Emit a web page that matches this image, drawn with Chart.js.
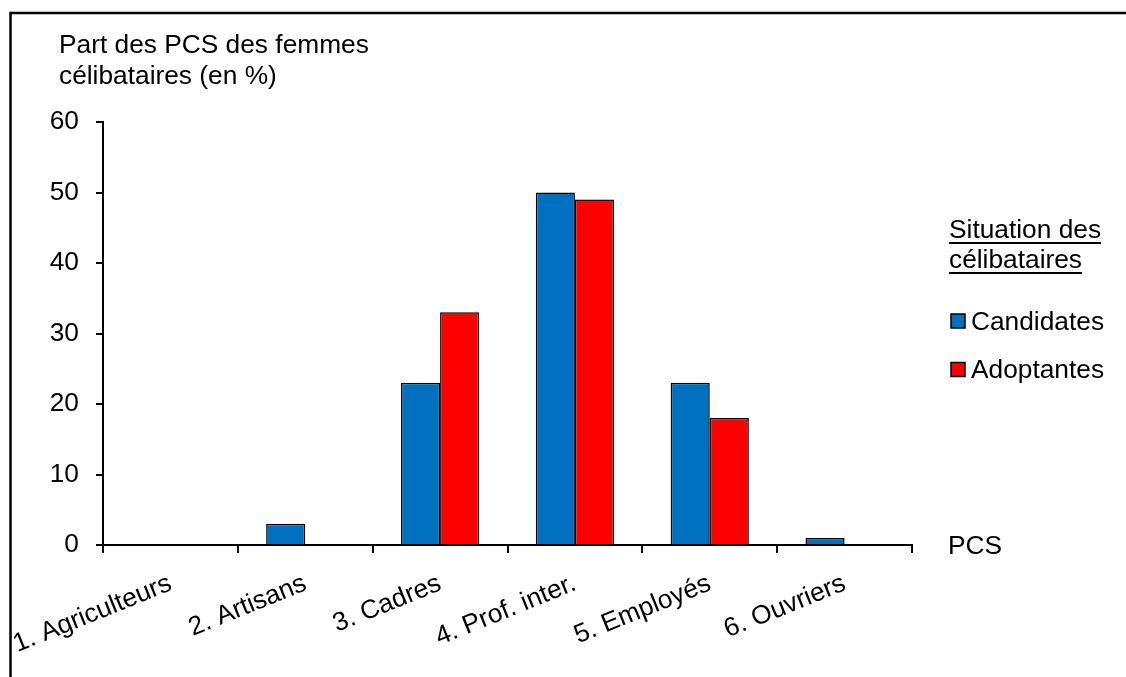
<!DOCTYPE html>
<html>
<head>
<meta charset="utf-8">
<script src="https://cdn.jsdelivr.net/npm/chart.js@4.4.0/dist/chart.umd.min.js"></script>
<style>
html,body{margin:0;padding:0;background:#fff;}
#wrap{width:1126px;height:677px;position:relative;}
</style>
</head>
<body>
<div id="wrap"><canvas id="c" width="1126" height="677"></canvas></div>
<script>
const categories = ["1. Agriculteurs","2. Artisans","3. Cadres","4. Prof. inter.","5. Employés","6. Ouvriers"];
const candidates = [0, 3, 23, 50, 23, 1];
const adoptantes = [0, 0, 33, 49, 18, 0];
const yTicks = [0, 10, 20, 30, 40, 50, 60];
const seriesNames = ["Candidates", "Adoptantes"];
const seriesColors = ["#0070C0", "#FF0000"];
const yTitleLines = ["Part des PCS des femmes", "célibataires (en %)"];
const xTitle = "PCS";
const legendTitle = ["Situation des", "célibataires"];

const FONT = "'Liberation Sans', Arial, sans-serif";
const FS = 26.3;

const decor = {
  id: 'decor',
  beforeDraw(chart) {
    const ctx = chart.ctx;
    ctx.save();
    ctx.fillStyle = '#fff';
    ctx.fillRect(0, 0, chart.width, chart.height);
    ctx.restore();
  },
  afterDraw(chart) {
    const ctx = chart.ctx;
    const area = chart.chartArea;
    ctx.save();
    // frame (top and left)
    ctx.strokeStyle = '#000';
    ctx.lineWidth = 2.5;
    ctx.beginPath();
    ctx.moveTo(10.5, chart.height);
    ctx.lineTo(10.5, 13);
    ctx.lineTo(chart.width, 13);
    ctx.stroke();

    ctx.fillStyle = '#000';
    ctx.font = FS + 'px ' + FONT;
    ctx.textBaseline = 'alphabetic';
    ctx.textAlign = 'left';
    // y title
    ctx.fillText(yTitleLines[0], 59, 53);
    ctx.fillText(yTitleLines[1], 59, 84);
    // x title
    ctx.fillText(xTitle, area.right + 36, area.bottom + 9);

    // legend
    const lx = 949;
    ctx.fillText(legendTitle[0], lx, 238);
    ctx.fillText(legendTitle[1], lx, 268);
    ctx.lineWidth = 2;
    ctx.beginPath();
    let w0 = ctx.measureText(legendTitle[0]).width;
    let w1 = ctx.measureText(legendTitle[1]).width;
    ctx.moveTo(lx, 243); ctx.lineTo(lx + w0, 243);
    ctx.moveTo(lx, 273); ctx.lineTo(lx + w1, 273);
    ctx.stroke();

    const rows = [321, 369.5];
    chart.data.datasets.forEach((ds, i) => {
      const cy = rows[i];
      ctx.fillStyle = ds.backgroundColor;
      ctx.fillRect(951, cy - 7, 14, 14);
      ctx.lineWidth = 1.5;
      ctx.strokeStyle = '#000';
      ctx.strokeRect(951, cy - 7, 14, 14);
      ctx.fillStyle = '#000';
      ctx.fillText(ds.label, 971, cy + 8.5);
    });
    ctx.restore();
  }
};

new Chart(document.getElementById('c'), {
  type: 'bar',
  data: {
    labels: categories,
    datasets: [
      { label: seriesNames[0], data: candidates, backgroundColor: seriesColors[0], borderColor: '#000', borderWidth: 1.5, borderSkipped: 'bottom' },
      { label: seriesNames[1], data: adoptantes, backgroundColor: seriesColors[1], borderColor: '#000', borderWidth: 1.5, borderSkipped: 'bottom' }
    ]
  },
  options: {
    responsive: false,
    animation: false,
    devicePixelRatio: 1,
    layout: { padding: { top: 122, right: 214, left: 0, bottom: 0 } },
    plugins: { legend: { display: false }, tooltip: { enabled: false } },
    datasets: { bar: { categoryPercentage: 0.58, barPercentage: 1.0 } },
    scales: {
      x: {
        offset: true,
        grid: { display: true, offset: true, drawOnChartArea: false, drawTicks: true, tickLength: 8, color: '#000', lineWidth: 2 },
        border: { display: true, color: '#000', width: 2 },
        ticks: { color: '#000', font: { family: FONT, size: FS }, minRotation: 22, maxRotation: 22, padding: 15, autoSkip: false },
        afterFit(scale) { scale.height = 132; scale.paddingLeft = 0; scale.paddingRight = 0; }
      },
      y: {
        min: 0, max: 60,
        afterBuildTicks(scale) { scale.ticks = yTicks.map(v => ({ value: v })); },
        grid: { display: true, drawOnChartArea: false, drawTicks: true, tickLength: 7, color: '#000', lineWidth: 2 },
        border: { display: true, color: '#000', width: 2 },
        ticks: { color: '#000', font: { family: FONT, size: FS }, padding: 17 },
        afterFit(scale) { scale.width = 103; }
      }
    }
  },
  plugins: [decor]
});
</script>
</body>
</html>
